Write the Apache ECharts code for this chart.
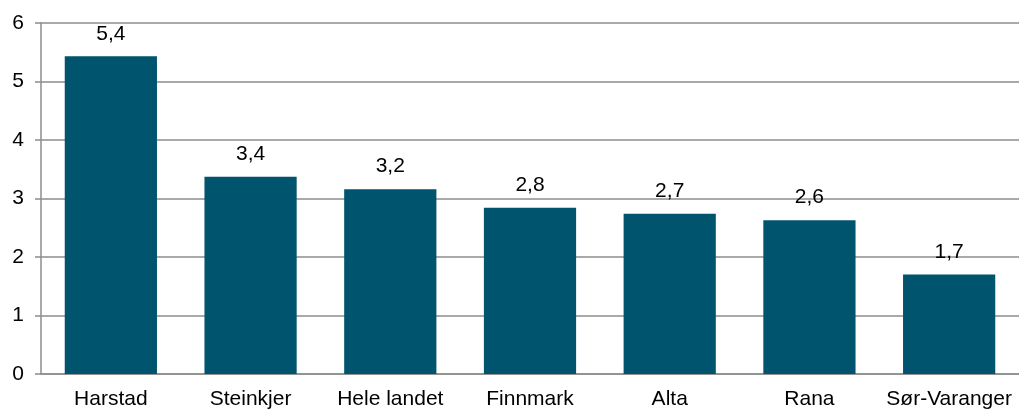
<!DOCTYPE html>
<html>
<head>
<meta charset="utf-8">
<script src="https://cdn.jsdelivr.net/npm/echarts@6/dist/echarts.min.js"></script>
<style>
  html, body { margin: 0; padding: 0; background: #fff; }
  #chart { width: 1019px; height: 410px; }
</style>
</head>
<body>
<div id="chart"></div>
<script>
// values
const places = ['Harstad', 'Steinkjer', 'Hele landet', 'Finnmark', 'Alta', 'Rana', 'Sør-Varanger'];
const values = [5.43, 3.37, 3.16, 2.84, 2.74, 2.63, 1.70];

const chart = echarts.init(document.getElementById('chart'));
const font = 'Liberation Sans, Arial, sans-serif';

chart.setOption({
  animation: false,
  grid: { left: 41, right: -3, top: 23, bottom: 36 },
  xAxis: {
    type: 'category',
    data: places,
    axisLine: { lineStyle: { color: '#8c8c8c', width: 1.5 } },
    axisTick: { length: 6, lineStyle: { color: '#8c8c8c', width: 1.5 } },
    axisLabel: { color: '#000', fontSize: 21, fontFamily: font, margin: 15, interval: 0, hideOverlap: false }
  },
  yAxis: {
    type: 'value',
    min: 0,
    max: 6,
    interval: 1,
    axisLine: { show: true, lineStyle: { color: '#8c8c8c', width: 1.5 } },
    axisTick: { show: true, length: 6, lineStyle: { color: '#8c8c8c', width: 1.5 } },
    splitLine: { lineStyle: { color: '#8c8c8c', width: 1.5 } },
    axisLabel: { color: '#000', fontSize: 21, fontFamily: font, margin: 17 }
  },
  series: [{
    type: 'bar',
    data: values,
    barCategoryGap: '34%',
    itemStyle: { color: '#01546e' },
    label: {
      show: true,
      position: 'top',
      distance: 12,
      color: '#000',
      fontSize: 21,
      fontFamily: font,
      formatter: p => p.value.toFixed(1).replace('.', ',')
    }
  }]
});
</script>
</body>
</html>
